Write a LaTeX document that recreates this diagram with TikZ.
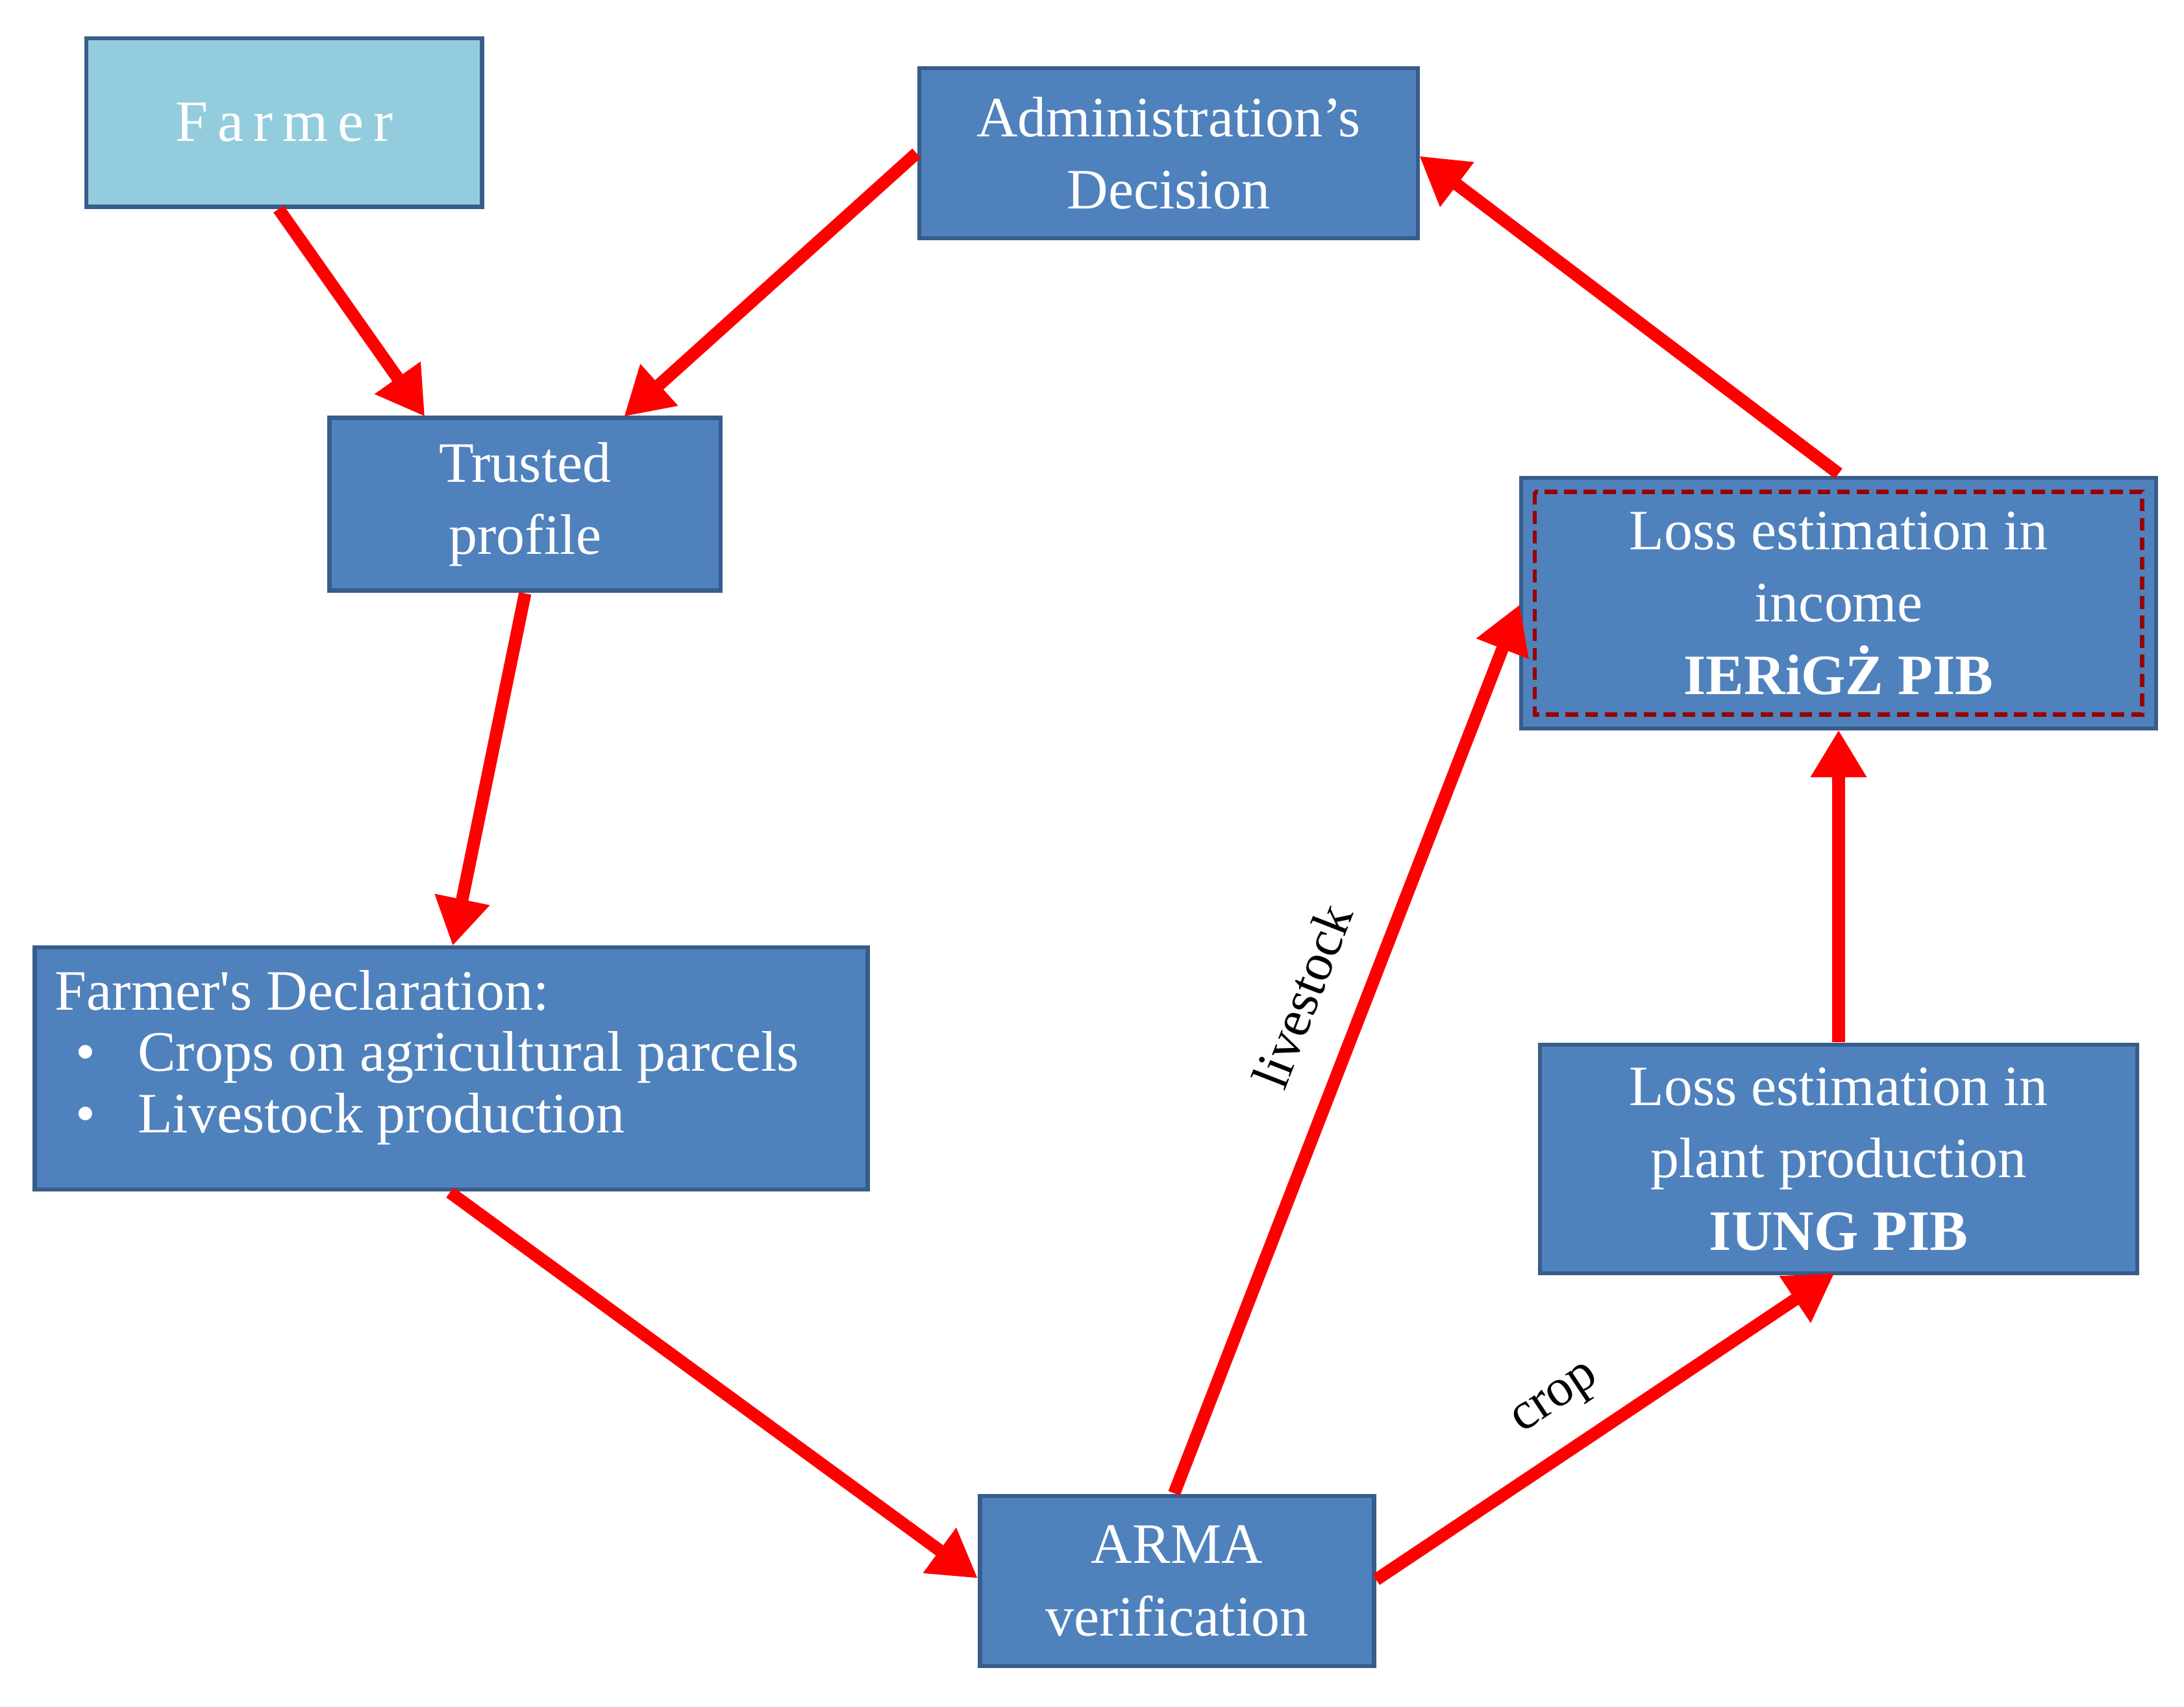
\documentclass[tikz,border=0pt]{standalone}
\usepackage{fontspec}
\setmainfont{Liberation Serif}
\usetikzlibrary{arrows.meta}
\definecolor{bfill}{HTML}{4F81BD}
\definecolor{bdraw}{HTML}{385D8A}
\definecolor{lfill}{HTML}{93CDDD}
\begin{document}
\begin{tikzpicture}[x=1pt,y=-1pt,
 box/.style={draw=bdraw,line width=3pt,fill=bfill,text=white,align=center,inner sep=0pt,font=\fontsize{41}{52}\selectfont},
 arr/.style={draw=red,line width=9pt,-{Triangle[length=34pt,width=38pt]},shorten >=0pt},
 lab/.style={font=\fontsize{38}{40}\selectfont,text=black}]
\useasboundingbox (0,0) rectangle (1568,1225);
\node[box,fill=lfill,minimum width=284pt,minimum height=121pt,font=\fontsize{42}{52}\selectfont] (farmer) at (204,88) {F\,a\,r\,m\,e\,r};
\node[box,minimum width=358pt,minimum height=122pt] (admin) at (839,110) {Administration’s\\Decision};
\node[box,minimum width=281pt,minimum height=124pt] (trusted) at (377,362) {Trusted\\profile};
\node[box,minimum width=456pt,minimum height=180pt] (income) at (1320,433) {Loss estimation in\\income\\\textbf{IERiGŻ PIB}};
\draw[draw=red!60!black,line width=3pt,dash pattern=on 9pt off 5pt] (1102,353) rectangle (1538,513);
\node[box,minimum width=598pt,minimum height=174pt] (decl) at (324,767) {};
\node[text=white,anchor=north west,font=\fontsize{41}{46}\selectfont,align=left] (decltext) at (36,693) {Farmer\textquotesingle s Declaration:\\[-2pt]
\hspace*{15pt}•\hspace{30pt}Crops on agricultural parcels\\[-2pt]
\hspace*{15pt}•\hspace{30pt}Livestock production};
\node[box,minimum width=429pt,minimum height=164pt] (plant) at (1320,832) {Loss estimation in\\plant production\\\textbf{IUNG PIB}};
\node[box,minimum width=283pt,minimum height=122pt] (arma) at (845,1135) {ARMA\\verification};
\coordinate (a1s) at (200,150); \coordinate (a1e) at (305,299);
\coordinate (a2s) at (658,110); \coordinate (a2e) at (448,299);
\coordinate (a3s) at (377,426); \coordinate (a3e) at (325,679);
\coordinate (a4s) at (323,856); \coordinate (a4e) at (702,1133);
\coordinate (a5s) at (843,1072); \coordinate (a5e) at (1091,434);
\coordinate (a6s) at (988,1134); \coordinate (a6e) at (1317,914);
\coordinate (a7s) at (1320,748); \coordinate (a7e) at (1320,524);
\coordinate (a8s) at (1320,340); \coordinate (a8e) at (1019,112);
\foreach \i in {1,...,8} \draw[arr] (a\i s) -- (a\i e);
\node[lab,rotate=68.7] (ls) at (935,715) {livestock};
\node[lab,rotate=33.7] (cr) at (1118,1006) {crop};
\end{tikzpicture}
\end{document}
